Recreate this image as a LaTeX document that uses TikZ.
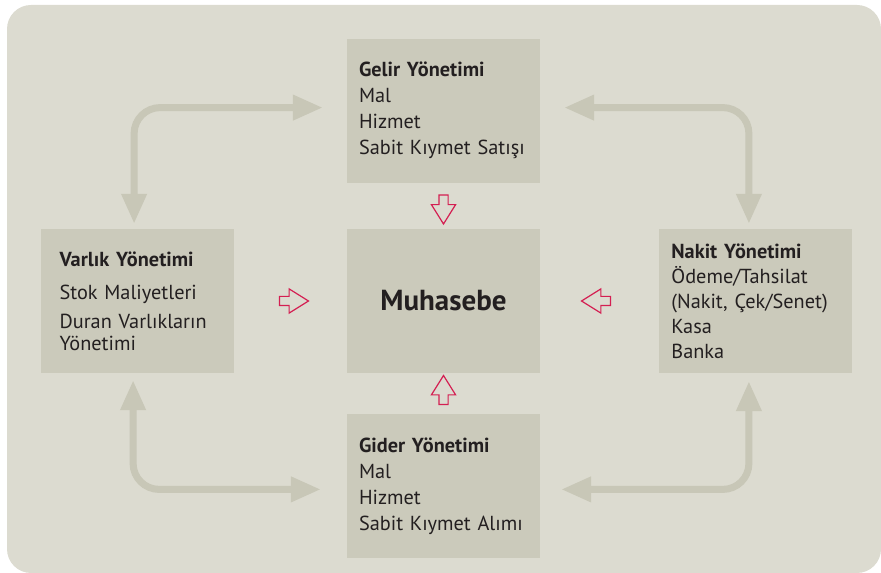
\documentclass[tikz,border=0pt]{standalone}
\usepackage{fontspec}
\setmainfont{PT Sans}
\usepackage{xcolor}
\usepackage{tikz}
\usetikzlibrary{shapes.arrows, arrows.meta, positioning, calc}
\definecolor{panel}{RGB}{220,219,208}
\definecolor{boxfill}{RGB}{203,202,187}
\definecolor{linkgray}{RGB}{200,199,183}
\definecolor{flowred}{RGB}{212,31,82}
\definecolor{ink}{RGB}{35,31,32}
\tikzstyle{module} = [rectangle, fill=boxfill, minimum width=193pt, minimum height=144pt, text width=169pt, inner xsep=12pt, align=left, text=ink, font=\fontsize{20.3}{26}\selectfont]
\tikzstyle{core} = [rectangle, fill=boxfill, minimum width=193pt, minimum height=144pt, text=ink, font=\fontsize{29}{32}\selectfont\bfseries]
\tikzstyle{link} = [line width=7pt, draw=linkgray, rounded corners=26pt, {Triangle[width=24pt,length=30pt]}-{Triangle[width=24pt,length=30pt]}]
\tikzstyle{feed} = [single arrow, draw=flowred, fill=panel, line width=1.2pt, minimum height=29pt, inner sep=4pt, single arrow head extend=7.5pt, single arrow tip angle=64]

\begin{document}
\begin{tikzpicture}[x=1pt, y=1pt]

  \useasboundingbox (0,0) rectangle (881,573);
  \fill [panel, rounded corners=24pt] (7,0) rectangle (881,568);

  % Nodes
  \node (muhasebe) [core] at (443.5,272) {Muhasebe};
  \node (gelir) [module, above=46pt of muhasebe] {\textbf{Gelir Yönetimi}\\Mal\\Hizmet\\Sabit Kıymet Satışı};
  \node (gider) [module, below=41pt of muhasebe] {\textbf{Gider Yönetimi}\\Mal\\Hizmet\\Sabit Kıymet Alımı};
  \node (varlik) [module, left=113pt of muhasebe, text width=155pt, inner xsep=19pt, font=\fontsize{20.3}{22}\selectfont] {\textbf{Varlık Yönetimi}\\[11pt]Stok Maliyetleri\\[7pt]Duran Varlıkların\\Yönetimi};
  \node (nakit) [module, right=119pt of muhasebe, font=\fontsize{20.3}{25}\selectfont] {\textbf{Nakit Yönetimi}\\Ödeme/Tahsilat\\(Nakit, Çek/Senet)\\Kasa\\Banka};

  % Flows into Muhasebe
  \node (gelirin) [feed, rotate=270] at ($(gelir.south)!0.5!(muhasebe.north)$) {};
  \node (giderin) [feed, rotate=90] at ($(gider.north)!0.5!(muhasebe.south)$) {};
  \node (varlikin) [feed] at ($(varlik.east)!0.5!(muhasebe.west)$) {};
  \node (nakitin) [feed, rotate=180] at ($(nakit.west)!0.5!(muhasebe.east)$) {};

  % Links
  \draw [link, shorten <=24pt, shorten >=5pt] ([yshift=3pt]gelir.west) -| ([xshift=-3pt]varlik.north);
  \draw [link, shorten <=24pt, shorten >=5pt] ([yshift=3pt]gelir.east) -| ([xshift=-7pt]nakit.north);
  \draw [link, shorten <=7pt, shorten >=26pt] ([xshift=-4pt]varlik.south) |- ([yshift=-3pt]gider.west);
  \draw [link, shorten <=8pt, shorten >=21pt] ([xshift=-7pt]nakit.south) |- ([yshift=-3pt]gider.east);

\end{tikzpicture}
\end{document}
